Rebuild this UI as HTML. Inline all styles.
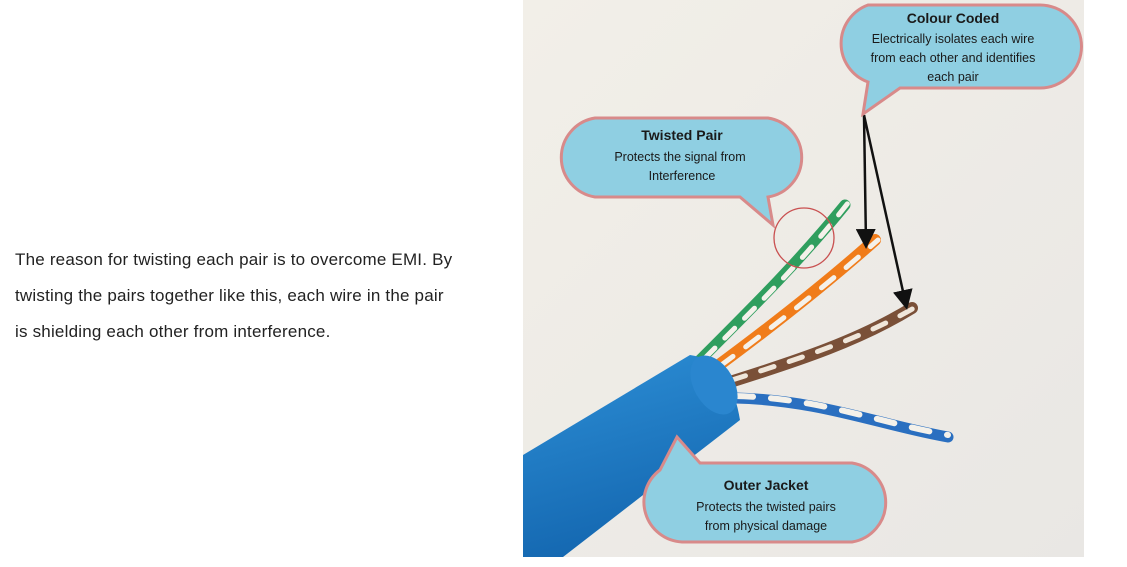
<!DOCTYPE html>
<html><head><meta charset="utf-8"><style>
body{margin:0;width:1127px;height:567px;background:#fff;position:relative;overflow:hidden;font-family:"Liberation Sans",sans-serif}
.t{position:absolute;left:15px;top:242px;width:445px;font-size:17px;line-height:36px;color:#222;letter-spacing:0.2px}
svg{position:absolute;left:0;top:0}
</style></head><body>
<div class="t">The reason for twisting each pair is to overcome EMI. By<br>twisting the pairs together like this, each wire in the pair<br>is shielding each other from interference.</div>
<svg width="1127" height="567" viewBox="0 0 1127 567">
<defs>
<linearGradient id="bg" x1="0" y1="0" x2="1" y2="1"><stop offset="0" stop-color="#f2efe8"/><stop offset="1" stop-color="#e9e7e4"/></linearGradient>
<linearGradient id="cb" x1="0" y1="0" x2="0.3" y2="1"><stop offset="0" stop-color="#2d8fd6"/><stop offset="1" stop-color="#1467b0"/></linearGradient>
<marker id="ah" markerWidth="8" markerHeight="8" refX="6" refY="4" orient="auto"><path d="M0,0 L8,4 L0,8 z" fill="#111"/></marker>
</defs>
<rect x="523" y="0" width="561" height="557" fill="url(#bg)"/>
<g fill="none" stroke-linecap="round">
<path d="M700,360 C760,300 800,260 845,205" stroke="#2f9e5e" stroke-width="11"/>
<path d="M705,358 C765,298 805,258 848,203" stroke="#f4f1ea" stroke-width="5" stroke-dasharray="14 14"/>
<path d="M715,368 C780,320 830,280 875,240" stroke="#f07c1a" stroke-width="12"/>
<path d="M720,366 C785,318 835,278 878,240" stroke="#f4f1ea" stroke-width="5" stroke-dasharray="16 16"/>
<path d="M730,382 C800,360 860,340 912,308" stroke="#7a5038" stroke-width="12"/>
<path d="M732,380 C802,358 862,338 914,308" stroke="#efe6da" stroke-width="5" stroke-dasharray="14 16"/>
<path d="M735,398 C820,400 880,425 948,437" stroke="#2a6fc0" stroke-width="11"/>
<path d="M735,396 C820,398 880,423 948,435" stroke="#f4f1ea" stroke-width="6" stroke-dasharray="18 18"/>
</g>
<path d="M523,455 L690,355 Q730,360 740,420 L563,557 L523,557 Z" fill="url(#cb)"/>
<ellipse cx="714" cy="385" rx="20" ry="32" transform="rotate(-30 714 385)" fill="#2a86cf"/>
<circle cx="804" cy="238" r="30" fill="none" stroke="#c95050" stroke-width="1.3"/>
<line x1="864" y1="115" x2="866" y2="244" stroke="#111" stroke-width="2.5" marker-end="url(#ah)"/>
<line x1="864" y1="115" x2="906" y2="305" stroke="#111" stroke-width="2.5" marker-end="url(#ah)"/>
<g fill="#8fcfe2" stroke="#d88a8a" stroke-width="3">
<path d="M868,5 H1040 A41,41 0 0 1 1040,88 H900 L863,114 L868,82 A41,41 0 0 1 868,5 Z"/>
<path d="M595,118 H768 A40,40 0 0 1 768,197 L773,225 L740,197 H595 A40,40 0 0 1 595,118 Z"/>
<path d="M700,463 H852 A40,40 0 0 1 852,542 H682 A40,40 0 0 1 660,470 L677,437 Z"/>
</g>
<g font-family="'Liberation Sans',sans-serif" text-anchor="middle" fill="#1a1a1a">
<text x="953" y="23" font-size="14" font-weight="bold">Colour Coded</text>
<text x="953" y="43" font-size="12.5">Electrically isolates each wire</text>
<text x="953" y="62" font-size="12.5">from each other and identifies</text>
<text x="953" y="81" font-size="12.5">each pair</text>
<text x="682" y="140" font-size="14" font-weight="bold">Twisted Pair</text>
<text x="680" y="161" font-size="12.5">Protects the signal from</text>
<text x="682" y="180" font-size="12.5">Interference</text>
<text x="766" y="490" font-size="14" font-weight="bold">Outer Jacket</text>
<text x="766" y="511" font-size="12.5">Protects the twisted pairs</text>
<text x="766" y="530" font-size="12.5">from physical damage</text>
</g>
</svg>
</body></html>
